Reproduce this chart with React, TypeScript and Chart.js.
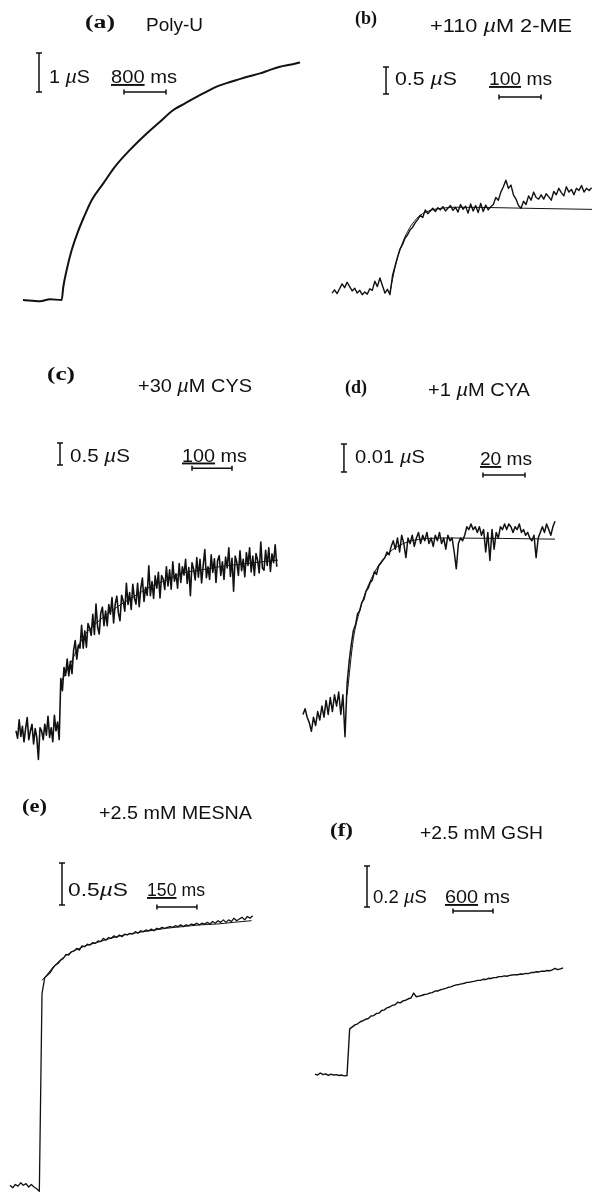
import React, { useEffect, useRef } from "react";
import { Chart, registerables } from "chart.js";

Chart.register(...registerables);

// ---------------- DATA (time in ms, conductance in µS) ----------------

// (a) Poly-U — sparse trace
const A_TIME = [0, 324, 514, 737, 768, 832, 928, 1035, 1149, 1308, 1530, 1753, 2038, 2357, 2610, 2864, 3086, 3308, 3499, 3689, 3880, 4070, 4293, 4515, 4705, 4896, 5086, 5277];
const A_COND = [0, -0.03, 0.02, 0, 0.34, 0.77, 1.28, 1.71, 2.09, 2.56, 2.99, 3.42, 3.85, 4.27, 4.57, 4.87, 5.04, 5.21, 5.34, 5.47, 5.56, 5.64, 5.73, 5.81, 5.9, 5.98, 6.03, 6.09];

// (b) +110 µM 2-ME — sampled every 6 ms
const B_STEP = 6;
const B_COND = [
  -0.02, 0.04, -0.03, 0.06, 0.15, 0.08, 0.18, 0.1, 0.02, 0.07, -0.02, 0.03, -0.05, 0.0, -0.04, 0.06, 0.03, 0.2, 0.1, 0.26, 0.12, -0.02, 0.05, -0.05,
  0.3, 0.48, 0.65, 0.8, 0.88, 1.0, 1.06, 1.15, 1.2, 1.28, 1.34, 1.42, 1.38, 1.52, 1.45, 1.5, 1.55, 1.49, 1.56, 1.52, 1.58, 1.5, 1.55,
  1.6, 1.51, 1.57, 1.48, 1.62, 1.53, 1.59, 1.46, 1.63, 1.5, 1.6, 1.47, 1.64, 1.49, 1.61, 1.52, 1.58,
  1.62, 1.75, 1.7, 1.85, 1.95, 2.07, 1.92, 1.98, 1.8, 1.72, 1.6, 1.55, 1.68, 1.62, 1.78, 1.7, 1.85, 1.75, 1.72, 1.8,
  1.72, 1.82, 1.76, 1.7, 1.86, 1.8, 1.92, 1.84, 1.78, 1.95, 1.85, 1.9, 1.8, 1.92, 1.88, 1.97, 1.85, 1.92, 1.88, 1.93,
];
const B_FIT_TIME = [138, 150, 165, 180, 195, 210, 230, 260, 300, 400, 500, 619];
const B_FIT_COND = [0, 0.45, 0.85, 1.12, 1.3, 1.42, 1.5, 1.55, 1.57, 1.56, 1.545, 1.53];

// (c) +30 µM CYS — sampled every 4 ms
const C_STEP = 4;
const C_COND = [
  0.05, -0.12, 0.3, -0.08, 0.15, -0.2, 0.1, 0.35, -0.15, 0.05, 0.2, -0.25, 0.1, -0.1, -0.6, 0.12, 0.05, -0.15, 0.2, -0.05, 0.38, -0.1, 0.12, -0.2, 0.4, 0.05, 0.25, -0.15,
  1.24, 0.96, 1.49, 1.31, 1.68, 1.3, 1.63, 1.35, 1.88, 2.1,
  1.68, 2.0, 1.93, 2.45, 1.93, 2.32, 1.95, 2.49, 2.38, 2.22,
  2.7, 2.24, 2.93, 2.41, 2.25, 2.73, 2.86, 2.44, 2.77, 2.44,
  2.92, 2.7, 3.08, 2.5, 2.93, 3.11, 2.73, 2.55, 3.13, 3.0,
  2.77, 3.4, 2.92, 3.19, 2.81, 3.38, 3.06, 2.93, 3.4, 2.87,
  3.29, 3.52, 2.99, 3.31, 3.13, 3.8, 3.12, 3.44, 3.06, 3.57,
  3.29, 3.65, 3.07, 3.58, 3.5, 3.26, 3.78, 3.34, 3.71, 3.27,
  3.89, 3.45, 3.62, 3.29, 3.85, 3.42, 3.78, 3.59, 3.95, 3.4,
  3.76, 3.12, 3.87, 3.73, 3.48, 3.99, 3.54, 3.95, 3.41, 3.81,
  4.17, 3.53, 3.78, 3.49, 4.05, 3.65, 3.96, 3.42, 3.92, 4.03,
  3.58, 3.89, 3.49, 4.0, 3.75, 4.21, 3.56, 3.97, 3.22, 4.02,
  3.88, 3.58, 4.14, 3.69, 3.95, 3.55, 4.1, 3.81, 4.21, 3.66,
  4.02, 3.58, 4.08, 3.93, 3.64, 4.34, 3.75, 3.7, 4.15, 3.81,
  4.21, 3.67, 4.07, 3.87, 4.28, 3.78,
];
const C_FIT_TIME = [112, 140, 168, 210, 252, 293, 335, 377, 418, 460, 502, 544, 585, 655];
const C_FIT_COND = [1.14, 1.65, 2.18, 2.57, 2.86, 3.09, 3.32, 3.48, 3.64, 3.7, 3.77, 3.82, 3.86, 3.93];

// (d) +1 µM CYA — sampled every 1 ms
const D_STEP = 1;
const D_COND = [
  -0.003, -0.001, -0.004, -0.006, -0.009, -0.004, -0.007, -0.002, -0.005, 0.0, -0.004, 0.002, -0.003, 0.003, -0.002, 0.004, 0.0, 0.005, -0.003, 0.004, -0.011,
  0.008, 0.016, 0.022, 0.027, 0.029, 0.033, 0.034, 0.037, 0.038, 0.041, 0.042, 0.044, 0.045, 0.048, 0.047, 0.05, 0.051, 0.052, 0.053, 0.055, 0.054,
  0.057, 0.059, 0.056, 0.06, 0.055, 0.061, 0.058, 0.053, 0.06, 0.058, 0.061, 0.057, 0.06, 0.062, 0.058, 0.061, 0.059, 0.062, 0.058, 0.06,
  0.057, 0.061, 0.059, 0.062, 0.058, 0.06, 0.056, 0.061, 0.059, 0.06, 0.055, 0.049, 0.058, 0.06, 0.059, 0.061, 0.064, 0.063, 0.065, 0.063,
  0.064, 0.062, 0.064, 0.061, 0.063, 0.055, 0.062, 0.052, 0.063, 0.056, 0.062, 0.06, 0.064, 0.063, 0.065, 0.063, 0.065, 0.064, 0.062, 0.064,
  0.063, 0.065, 0.062, 0.063, 0.061, 0.062, 0.06, 0.059, 0.061, 0.053, 0.06, 0.062, 0.064, 0.062, 0.065, 0.063, 0.061, 0.064, 0.066,
];
const D_FIT_TIME = [21, 24, 27, 30, 35, 40, 45, 55, 70, 120];
const D_FIT_COND = [0.004, 0.024, 0.034, 0.041, 0.049, 0.054, 0.057, 0.0595, 0.06, 0.0596];

// (e) +2.5 mM MESNA — sampled every 10 ms
const E_STEP = 10;
const E_COND = [
  0.02, -0.01, 0.03, 0.01, 0.05, 0.02, 0.04, 0.0, 0.03, 0.0, -0.02, -0.05,
  2.3, 2.49, 2.52, 2.55, 2.6, 2.64, 2.66, 2.7, 2.72, 2.77,
  2.76, 2.8, 2.81, 2.84, 2.82, 2.87, 2.86, 2.89, 2.88, 2.91,
  2.9, 2.93, 2.92, 2.96, 2.94, 2.97, 2.96, 2.99, 2.97, 3.0,
  2.98, 3.01, 3.0, 3.02, 3.01, 3.04, 3.02, 3.05, 3.04, 3.06,
  3.05, 3.07, 3.05, 3.08, 3.07, 3.09, 3.08, 3.09, 3.1, 3.09,
  3.11, 3.1, 3.12, 3.1, 3.12, 3.11, 3.13, 3.12, 3.14, 3.12,
  3.14, 3.13, 3.15, 3.13, 3.16, 3.14, 3.17, 3.15, 3.18, 3.15,
  3.18, 3.16, 3.2, 3.17, 3.19, 3.21, 3.18, 3.22, 3.2, 3.23,
];
const E_FIT_TIME = [120, 137, 162, 212, 275, 337, 400, 462, 525, 587, 650, 712, 775, 837, 906];
const E_FIT_COND = [2.46, 2.52, 2.62, 2.76, 2.86, 2.92, 2.98, 3.02, 3.05, 3.08, 3.1, 3.12, 3.13, 3.15, 3.17];

// (f) +2.5 mM GSH — sampled every 40 ms
const F_STEP = 40;
const F_COND = [
  -0.005, -0.01, 0.0, -0.008, -0.004, -0.012, -0.006, -0.01, -0.008, -0.012, -0.01, -0.014, -0.012,
  0.215, 0.225, 0.235, 0.24, 0.25, 0.255, 0.262, 0.266, 0.278, 0.28,
  0.29, 0.292, 0.305, 0.308, 0.318, 0.322, 0.33, 0.333, 0.345, 0.342,
  0.352, 0.355, 0.362, 0.366, 0.39, 0.372, 0.375, 0.378, 0.383, 0.385,
  0.39, 0.392, 0.4, 0.4, 0.406, 0.409, 0.413, 0.418, 0.42, 0.426,
  0.43, 0.432, 0.435, 0.438, 0.442, 0.443, 0.446, 0.448, 0.452, 0.452,
  0.457, 0.456, 0.462, 0.461, 0.465, 0.466, 0.47, 0.47, 0.474, 0.472,
  0.476, 0.478, 0.48, 0.479, 0.483, 0.482, 0.486, 0.485, 0.49, 0.49,
  0.494, 0.493, 0.497, 0.496, 0.5, 0.499, 0.503, 0.51, 0.504, 0.508, 0.512,
];

// ---------------- TEXT ----------------
const TAGS = ["(a)", "(b)", "(c)", "(d)", "(e)", "(f)"];
const TITLES = ["Poly-U", "+110 µM 2-ME", "+30 µM CYS", "+1 µM CYA", "+2.5 mM MESNA", "+2.5 mM GSH"];
const COND_BAR_LABELS = ["1 µS", "0.5 µS", "0.5 µS", "0.01 µS", "0.5µS", "0.2 µS"];
const TIME_BAR_NUMS = ["800", "100", "100", "20", "150", "600"];
const COND_BAR_VALUES = [1, 0.5, 0.5, 0.01, 0.5, 0.2];
const TIME_BAR_VALUES = [800, 100, 100, 20, 150, 600];

// ---------------- LAYOUT ----------------
type Series = { t?: number[]; step?: number; g: number[]; width: number; smooth?: boolean };
type Panel = {
  box: [number, number, number, number];
  x: [number, number];
  y: [number, number];
  series: Series[];
  vbar: [number, number];
  hbar: [number, number];
};

const PANELS: Panel[] = [
  {
    box: [0, 45, 305, 265], x: [-438, 5372], y: [-0.256, 6.538],
    series: [{ t: A_TIME, g: A_COND, width: 2, smooth: true }],
    vbar: [305, 5.333], hbar: [1924, 5.333],
  },
  {
    box: [320, 60, 273, 245], x: [-28.6, 621.4], y: [-0.241, 4.296],
    series: [{ step: B_STEP, g: B_COND, width: 1.4 }, { t: B_FIT_TIME, g: B_FIT_COND, width: 1, smooth: true }],
    vbar: [128.6, 3.667], hbar: [397.6, 3.611],
  },
  {
    box: [10, 435, 285, 335], x: [-15, 697.5], y: [-0.841, 6.773],
    series: [{ step: C_STEP, g: C_COND, width: 1.6 }, { t: C_FIT_TIME, g: C_FIT_COND, width: 1, smooth: true }],
    vbar: [110, 6.09], hbar: [440, 6.016],
  },
  {
    box: [298, 435, 280, 320], x: [-2.38, 130.95], y: [-0.0175, 0.09679],
    series: [{ step: D_STEP, g: D_COND, width: 1.5 }, { t: D_FIT_TIME, g: D_FIT_COND, width: 1, smooth: true }],
    vbar: [19.5, 0.0836], hbar: [85.7, 0.0825],
  },
  {
    box: [0, 855, 290, 338], x: [-37.5, 1050], y: [-0.0714, 3.952],
    series: [{ step: E_STEP, g: E_COND, width: 1.3 }, { t: E_FIT_TIME, g: E_FIT_COND, width: 1, smooth: true }],
    vbar: [195, 3.357], hbar: [551, 3.333],
  },
  {
    box: [305, 860, 275, 225], x: [-150, 3975], y: [-0.0585, 1.039],
    series: [{ step: F_STEP, g: F_COND, width: 1.4 }],
    vbar: [780, 0.81], hbar: [2070, 0.79],
  },
];

// text anchors: [x, baseline y, width]
const TAG_POS: [number, number, number][] = [[85, 27.5, 30], [355, 23.5, 22], [47, 380, 28], [345, 392.5, 22], [22, 811.5, 25], [330, 836, 23]];
const TITLE_POS: [number, number, number][] = [[146, 30.5, 57], [430, 31.5, 142], [138, 391.5, 114], [428, 396, 102], [99, 819, 153], [420, 839, 123]];
const COND_POS: [number, number, number][] = [[49, 83, 41], [395, 84.5, 62], [70, 461.5, 60], [355, 463, 70], [68, 896, 60], [373, 903, 54]];
const TIME_POS: [number, number, number][] = [[111, 83, 66], [489, 85, 63], [182, 461.5, 65], [480, 465, 52], [147, 896, 58], [445, 903, 65]];

const INK = "#111";

const scaleBarPlugin = {
  id: "scaleBars",
  afterDatasetsDraw(chart: any, _args: any, opts: any) {
    const { ctx } = chart;
    const xs = chart.scales.x;
    const ys = chart.scales.y;
    ctx.save();
    ctx.strokeStyle = INK;
    ctx.lineWidth = 1.5;
    ctx.beginPath();
    const vx = xs.getPixelForValue(opts.vbar[0]);
    const vy0 = ys.getPixelForValue(opts.vbar[1]);
    const vy1 = ys.getPixelForValue(opts.vbar[1] + opts.gLen);
    ctx.moveTo(vx, vy0); ctx.lineTo(vx, vy1);
    ctx.moveTo(vx - 3, vy0); ctx.lineTo(vx + 3, vy0);
    ctx.moveTo(vx - 3, vy1); ctx.lineTo(vx + 3, vy1);
    const hx0 = xs.getPixelForValue(opts.hbar[0]);
    const hx1 = xs.getPixelForValue(opts.hbar[0] + opts.tLen);
    const hy = ys.getPixelForValue(opts.hbar[1]);
    ctx.moveTo(hx0, hy); ctx.lineTo(hx1, hy);
    ctx.moveTo(hx0, hy - 2.5); ctx.lineTo(hx0, hy + 2.5);
    ctx.moveTo(hx1, hy - 2.5); ctx.lineTo(hx1, hy + 2.5);
    ctx.stroke();
    ctx.restore();
  },
};

function PanelChart({ p, i }: { p: Panel; i: number }) {
  const ref = useRef<HTMLCanvasElement>(null);
  useEffect(() => {
    if (!ref.current) return;
    const datasets = p.series.map((s) => ({
      data: s.g.map((g, k) => ({ x: s.t ? s.t[k] : k * (s.step as number), y: g })),
      borderColor: INK,
      borderWidth: s.width,
      pointRadius: 0,
      fill: false,
      tension: s.smooth ? 0.4 : 0,
      cubicInterpolationMode: s.smooth ? ("monotone" as const) : ("default" as const),
      clip: false as const,
      borderJoinStyle: "round" as const,
    }));
    const chart = new Chart(ref.current, {
      type: "line",
      data: { datasets },
      options: {
        animation: false,
        responsive: false,
        maintainAspectRatio: false,
        devicePixelRatio: 1,
        parsing: false,
        layout: { padding: 0 },
        scales: {
          x: { type: "linear", display: false, min: p.x[0], max: p.x[1] },
          y: { type: "linear", display: false, min: p.y[0], max: p.y[1] },
        },
        plugins: {
          legend: { display: false },
          tooltip: { enabled: false },
          scaleBars: { vbar: p.vbar, hbar: p.hbar, gLen: COND_BAR_VALUES[i], tLen: TIME_BAR_VALUES[i] },
        } as any,
      },
      plugins: [scaleBarPlugin as any],
    });
    return () => chart.destroy();
  }, [p, i]);
  const [l, t, w, h] = p.box;
  return (
    <canvas
      ref={ref}
      width={w}
      height={h}
      style={{ position: "absolute", left: l, top: t, width: w, height: h }}
    />
  );
}

function withMu(s: string) {
  return s.split(/(µ)/).map((part, k) =>
    part === "µ" ? (
      <tspan key={k} fontStyle="italic">µ</tspan>
    ) : (
      <tspan key={k}>{part}</tspan>
    )
  );
}

const SANS = "'Liberation Sans', Arial, sans-serif";
const SERIF = "'Liberation Serif', 'Times New Roman', serif";

export default function App() {
  return (
    <div style={{ position: "absolute", left: 0, top: 0, width: 593, height: 1193, background: "#fff", overflow: "hidden" }}>
      {PANELS.map((p, i) => (
        <PanelChart key={i} p={p} i={i} />
      ))}
      <svg width={593} height={1193} style={{ position: "absolute", left: 0, top: 0, pointerEvents: "none" }}>
        {TAGS.map((s, i) => (
          <text key={"tag" + i} x={TAG_POS[i][0]} y={TAG_POS[i][1]} textLength={TAG_POS[i][2]} lengthAdjust="spacingAndGlyphs"
            fontFamily={SERIF} fontWeight="bold" fontSize={18} fill={INK}>{s}</text>
        ))}
        {TITLES.map((s, i) => (
          <text key={"title" + i} x={TITLE_POS[i][0]} y={TITLE_POS[i][1]} textLength={TITLE_POS[i][2]} lengthAdjust="spacingAndGlyphs"
            fontFamily={SANS} fontSize={19} fill={INK}>{withMu(s)}</text>
        ))}
        {COND_BAR_LABELS.map((s, i) => (
          <text key={"cond" + i} x={COND_POS[i][0]} y={COND_POS[i][1]} textLength={COND_POS[i][2]} lengthAdjust="spacingAndGlyphs"
            fontFamily={SANS} fontSize={19} fill={INK}>{withMu(s)}</text>
        ))}
        {TIME_BAR_NUMS.map((s, i) => (
          <text key={"time" + i} x={TIME_POS[i][0]} y={TIME_POS[i][1]} textLength={TIME_POS[i][2]} lengthAdjust="spacingAndGlyphs"
            fontFamily={SANS} fontSize={19} fill={INK}>
            <tspan textDecoration="underline">{s}</tspan>
            <tspan> ms</tspan>
          </text>
        ))}
      </svg>
    </div>
  );
}
